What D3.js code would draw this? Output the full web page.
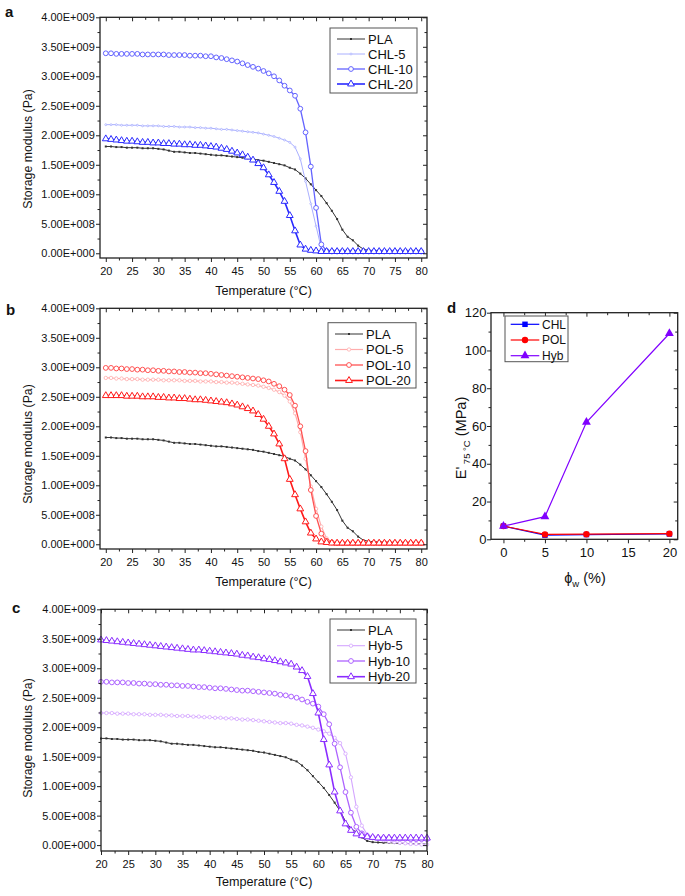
<!DOCTYPE html>
<html><head><meta charset="utf-8">
<script src="https://cdn.jsdelivr.net/npm/d3@7"></script>
<style>
body{margin:0;background:#fff}
svg{display:block}
text{font-family:"Liberation Sans",Arial,sans-serif;fill:#111}
</style>
</head><body>
<svg id="chart" width="685" height="896"></svg>
<script>
// ---------- DATA (storage modulus in units of 1E+009 Pa) ----------
const temperature = [20,21,22,23,24,25,26,27,28,29,30,31,32,33,34,35,36,37,38,39,40,41,42,43,44,45,46,47,48,49,50,51,52,53,54,55,56,57,58,59,60,61,62,63,64,65,66,67,68,69,70,71,72,73,74,75,76,77,78,79,80];

const PLA = [1.81,1.81,1.80,1.80,1.79,1.79,1.79,1.78,1.78,1.78,1.77,1.76,1.74,1.72,1.72,1.71,1.70,1.70,1.69,1.68,1.67,1.66,1.66,1.65,1.64,1.63,1.62,1.61,1.60,1.58,1.57,1.55,1.53,1.51,1.49,1.45,1.42,1.35,1.27,1.17,1.07,0.97,0.85,0.72,0.58,0.40,0.28,0.22,0.13,0.07,0.05,0.045,0.04,0.04,0.035,0.03,0.03,0.025,0.02,0.02,0.015];

const CHL5 = [2.18,2.18,2.18,2.17,2.17,2.17,2.17,2.16,2.16,2.16,2.16,2.15,2.15,2.15,2.14,2.14,2.14,2.13,2.13,2.12,2.12,2.11,2.10,2.10,2.09,2.08,2.07,2.06,2.05,2.04,2.02,2.00,1.98,1.95,1.92,1.88,1.80,1.60,1.22,0.84,0.46,0.08,0.03,0.02,0.02,0.02,0.02,0.02,0.02,0.02,0.02,0.02,0.02,0.02,0.02,0.02,0.02,0.02,0.02,0.02,0.02];

const CHL10 = [3.39,3.39,3.38,3.38,3.38,3.38,3.38,3.37,3.37,3.37,3.37,3.37,3.36,3.36,3.36,3.36,3.35,3.35,3.35,3.34,3.34,3.32,3.31,3.29,3.27,3.25,3.22,3.19,3.16,3.13,3.09,3.05,3.00,2.93,2.84,2.76,2.67,2.45,2.05,1.47,0.77,0.15,0.04,0.03,0.03,0.03,0.03,0.03,0.03,0.03,0.03,0.03,0.03,0.03,0.03,0.03,0.03,0.03,0.03,0.03,0.03];

const CHL20 = [1.94,1.93,1.92,1.91,1.90,1.90,1.89,1.88,1.88,1.87,1.87,1.86,1.86,1.85,1.85,1.84,1.84,1.83,1.83,1.82,1.81,1.80,1.78,1.76,1.73,1.70,1.67,1.63,1.58,1.52,1.45,1.33,1.20,1.05,0.88,0.64,0.38,0.14,0.07,0.05,0.04,0.03,0.03,0.03,0.03,0.03,0.03,0.03,0.03,0.03,0.03,0.03,0.03,0.03,0.03,0.03,0.03,0.03,0.03,0.03,0.03];

const POL5 = [2.82,2.82,2.81,2.81,2.80,2.80,2.80,2.79,2.79,2.79,2.79,2.78,2.78,2.78,2.78,2.77,2.77,2.77,2.76,2.76,2.76,2.75,2.75,2.74,2.74,2.73,2.72,2.71,2.70,2.69,2.67,2.65,2.62,2.58,2.52,2.42,2.22,1.90,1.45,0.98,0.60,0.30,0.10,0.04,0.02,0.02,0.02,0.02,0.02,0.02,0.02,0.02,0.02,0.02,0.02,0.02,0.02,0.02,0.02,0.02,0.02];

const POL10 = [2.99,2.99,2.98,2.98,2.97,2.97,2.96,2.96,2.95,2.95,2.94,2.94,2.93,2.93,2.92,2.92,2.91,2.91,2.90,2.90,2.89,2.88,2.87,2.86,2.85,2.84,2.83,2.82,2.81,2.80,2.78,2.76,2.72,2.68,2.62,2.53,2.35,2.00,1.58,0.92,0.48,0.18,0.06,0.03,0.02,0.02,0.02,0.02,0.02,0.02,0.02,0.02,0.02,0.02,0.02,0.02,0.02,0.02,0.02,0.02,0.02];

const POL20 = [2.52,2.52,2.52,2.52,2.51,2.51,2.51,2.50,2.50,2.50,2.49,2.49,2.48,2.48,2.47,2.47,2.46,2.45,2.45,2.44,2.43,2.42,2.41,2.40,2.38,2.36,2.33,2.30,2.26,2.20,2.12,2.00,1.87,1.70,1.45,1.10,0.84,0.60,0.38,0.19,0.09,0.04,0.03,0.02,0.02,0.02,0.02,0.02,0.02,0.02,0.02,0.02,0.02,0.02,0.02,0.02,0.02,0.02,0.02,0.02,0.02];

const HYB5 = [2.24,2.24,2.24,2.23,2.23,2.23,2.22,2.22,2.22,2.21,2.21,2.21,2.20,2.20,2.19,2.19,2.19,2.18,2.18,2.17,2.17,2.16,2.16,2.15,2.15,2.14,2.13,2.13,2.12,2.11,2.10,2.09,2.08,2.07,2.07,2.06,2.04,2.03,2.01,1.99,1.96,1.93,1.89,1.82,1.73,1.55,1.15,0.65,0.33,0.18,0.12,0.10,0.08,0.06,0.05,0.04,0.03,0.02,0.02,0.01,0.01];

const HYB10 = [2.77,2.77,2.76,2.76,2.76,2.75,2.75,2.74,2.74,2.73,2.73,2.72,2.72,2.71,2.71,2.70,2.70,2.69,2.68,2.68,2.67,2.66,2.66,2.65,2.64,2.63,2.62,2.62,2.61,2.60,2.59,2.58,2.57,2.55,2.54,2.52,2.50,2.47,2.43,2.40,2.35,2.22,2.05,1.72,1.32,0.90,0.55,0.31,0.20,0.15,0.13,0.12,0.12,0.12,0.11,0.11,0.11,0.10,0.10,0.10,0.10];

const HYB20 = [3.48,3.47,3.46,3.45,3.44,3.43,3.42,3.41,3.40,3.39,3.38,3.37,3.36,3.35,3.34,3.33,3.32,3.31,3.31,3.30,3.29,3.28,3.27,3.26,3.25,3.24,3.22,3.21,3.19,3.18,3.16,3.15,3.13,3.11,3.09,3.07,3.02,2.96,2.86,2.57,2.24,1.79,1.36,0.90,0.58,0.36,0.25,0.19,0.16,0.14,0.13,0.12,0.12,0.12,0.12,0.12,0.12,0.12,0.12,0.12,0.12];

// panel d: E' at 75 °C (MPa) vs filler weight fraction
const phiW = [0,5,10,20];
const E75_CHL = [7.0,2.2,2.5,2.8];
const E75_POL = [7.0,2.6,2.7,3.0];
const E75_HYB = [7.0,12.0,62.0,109.0];

const tempTicks = [20,25,30,35,40,45,50,55,60,65,70,75,80];
const tempMinor = [22.5,27.5,32.5,37.5,42.5,47.5,52.5,57.5,62.5,67.5,72.5,77.5];
const modTicks = [0,0.5,1,1.5,2,2.5,3,3.5,4];
const modMinor = [0.25,0.75,1.25,1.75,2.25,2.75,3.25,3.75];
const eTicks = [0,20,40,60,80,100,120];
const eMinor = [10,30,50,70,90,110];
const phiTicks = [0,5,10,15,20];
const phiMinor = [2.5,7.5,12.5,17.5];

// ---------- DRAWING ----------
const svg = d3.select("#chart");
const FONT = '"Liberation Sans", Arial, sans-serif';

function sciFmt(v){
  const pa = v*1e9;
  if (pa === 0) return "0.00E+000";
  const e = Math.floor(Math.log10(pa)+1e-9);
  const m = pa/Math.pow(10,e);
  return m.toFixed(2)+"E+"+String(e).padStart(3,"0");
}

function drawAxes(g, x, y, o){
  const [x0,x1] = x.range();
  const [y0,y1] = y.range();
  const col = "#222";
  const add = (tr, axis) => {
    const a = g.append("g").attr("transform", tr).call(axis);
    a.select(".domain").remove();
    a.selectAll("line").attr("stroke", col).attr("stroke-width", 1);
    a.selectAll("text").attr("font-family", FONT).attr("font-size", o.fs).attr("fill","#111");
    return a;
  };
  add(`translate(0,${y0})`, d3.axisBottom(x).tickValues(o.xMajor).tickSize(4).tickPadding(o.xPad).tickFormat(o.xFmt));
  add(`translate(0,${y0})`, d3.axisBottom(x).tickValues(o.xMinor).tickSize(2.5).tickFormat(""));
  add(`translate(0,${y1})`, d3.axisBottom(x).tickValues(o.xMajor).tickSize(4).tickFormat(""));
  add(`translate(0,${y1})`, d3.axisBottom(x).tickValues(o.xMinor).tickSize(2.5).tickFormat(""));
  add(`translate(${x0},0)`, d3.axisLeft(y).tickValues(o.yMajor).tickSize(4).tickPadding(o.yPad).tickFormat(o.yFmt));
  add(`translate(${x0},0)`, d3.axisLeft(y).tickValues(o.yMinor).tickSize(2.5).tickFormat(""));
  add(`translate(${x1},0)`, d3.axisLeft(y).tickValues(o.yMajor).tickSize(4).tickFormat(""));
  add(`translate(${x1},0)`, d3.axisLeft(y).tickValues(o.yMinor).tickSize(2.5).tickFormat(""));
  g.append("rect").attr("x",x0).attr("y",y1).attr("width",x1-x0).attr("height",y0-y1)
    .attr("fill","none").attr("stroke",col).attr("stroke-width",1.3);
}

function marker(sel, kind, color, size){
  if (kind === "square") {
    return sel.append("path").attr("d", d3.symbol(d3.symbolSquare, size)()).attr("fill", color).attr("stroke","none");
  }
  if (kind === "dot") {
    return sel.append("path").attr("d", d3.symbol(d3.symbolCircle, size)()).attr("fill", "#fff").attr("stroke", color).attr("stroke-width",0.8);
  }
  if (kind === "circle") {
    return sel.append("path").attr("d", d3.symbol(d3.symbolCircle, size)()).attr("fill", "#fff").attr("stroke", color).attr("stroke-width",1);
  }
  if (kind === "triangle") {
    return sel.append("path").attr("d", d3.symbol(d3.symbolTriangle, size)()).attr("fill", "#fff").attr("stroke", color).attr("stroke-width",1);
  }
}

const panelDefs = [
  {letter:"a", lx:5, ly:17, left:100, right:427, top:17.3, bottom:258, xDom:[18.9,81.1], yDom:[-0.08,4],
   yTitleY:149, xTitleY:295,
   legend:{x:330,y:28,w:87,h:65,rows:[39,54,69,84]},
   series:[
     {name:"PLA", data:PLA, color:"#333333", width:1, mk:"square", ms:4},
     {name:"CHL-5", data:CHL5, color:"#aab0ff", width:1, mk:"dot", ms:3},
     {name:"CHL-10", data:CHL10, color:"#6464ff", width:1.3, mk:"circle", ms:18},
     {name:"CHL-20", data:CHL20, color:"#2a2aff", width:1.6, mk:"triangle", ms:20}
   ]},
  {letter:"b", lx:6, ly:315, left:100, right:427, top:308.3, bottom:549, xDom:[18.9,81.1], yDom:[-0.08,4],
   yTitleY:444, xTitleY:586,
   legend:{x:328,y:322.7,w:88,h:65.3,rows:[334,349.5,365,380.5]},
   series:[
     {name:"PLA", data:PLA, color:"#333333", width:1, mk:"square", ms:4},
     {name:"POL-5", data:POL5, color:"#ffadad", width:1.2, mk:"dot", ms:9},
     {name:"POL-10", data:POL10, color:"#ff5252", width:1.3, mk:"circle", ms:18},
     {name:"POL-20", data:POL20, color:"#ff1a1a", width:1.6, mk:"triangle", ms:20}
   ]},
  {letter:"c", lx:12, ly:613, left:101, right:427, top:609.3, bottom:851, xDom:[20,80], yDom:[-0.1,4],
   yTitleY:738, xTitleY:886,
   legend:{x:330,y:619,w:86,h:64,rows:[630,645.7,661,676.7]},
   series:[
     {name:"PLA", data:PLA, color:"#333333", width:1, mk:"square", ms:4},
     {name:"Hyb-5", data:HYB5, color:"#d4a6ff", width:1.1, mk:"dot", ms:9},
     {name:"Hyb-10", data:HYB10, color:"#ad63ff", width:1.3, mk:"circle", ms:18},
     {name:"Hyb-20", data:HYB20, color:"#8a2cff", width:1.6, mk:"triangle", ms:20}
   ]}
];

panelDefs.forEach(p => {
  const g = svg.append("g");
  const x = d3.scaleLinear().domain(p.xDom).range([p.left, p.right]);
  const y = d3.scaleLinear().domain(p.yDom).range([p.bottom, p.top]);

  p.series.forEach(s => {
    const pts = temperature.map((t,i) => [t, s.data[i]]);
    const line = d3.line().x(d => x(d[0])).y(d => y(d[1]));
    g.append("path").datum(pts).attr("d", line).attr("fill","none")
      .attr("stroke", s.color).attr("stroke-width", s.width).attr("stroke-linejoin","round");
    const mg = g.append("g");
    pts.forEach(d => {
      marker(mg.append("g").attr("transform",`translate(${x(d[0])},${y(d[1])})`), s.mk, s.color, s.ms);
    });
  });

  drawAxes(g, x, y, {xMajor:tempTicks, xMinor:tempMinor, yMajor:modTicks, yMinor:modMinor,
    xFmt:d3.format("d"), yFmt:sciFmt, fs:11, xPad:5, yPad:1.2});

  g.append("text").attr("transform",`translate(32,${p.yTitleY}) rotate(-90)`)
    .attr("text-anchor","middle").attr("font-size",12.3).text("Storage modulus (Pa)");
  g.append("text").attr("x",(p.left+p.right)/2).attr("y",p.xTitleY)
    .attr("text-anchor","middle").attr("font-size",12.6).text("Temperature (°C)");
  g.append("text").attr("x",p.lx).attr("y",p.ly).attr("font-size",15).attr("font-weight","bold").text(p.letter);

  const L = p.legend;
  g.append("rect").attr("x",L.x).attr("y",L.y).attr("width",L.w).attr("height",L.h)
    .attr("fill","#fff").attr("stroke","#555").attr("stroke-width",1);
  p.series.forEach((s,i) => {
    const ry = L.rows[i];
    g.append("line").attr("x1",L.x+7).attr("x2",L.x+35).attr("y1",ry).attr("y2",ry)
      .attr("stroke",s.color).attr("stroke-width",s.width);
    marker(g.append("g").attr("transform",`translate(${L.x+21},${ry})`), s.mk, s.color, s.ms);
    g.append("text").attr("x",L.x+38).attr("y",ry+4.7).attr("font-size",13).text(s.name);
  });
});

// ---------- panel d ----------
{
  const g = svg.append("g");
  const x = d3.scaleLinear().domain([-1.5,21]).range([491,677.7]);
  const y = d3.scaleLinear().domain([0,120]).range([539.3,312.7]);
  const dSeries = [
    {name:"CHL", data:E75_CHL, color:"#0000ff", mk:d3.symbolSquare, ms:30},
    {name:"POL", data:E75_POL, color:"#ff0000", mk:d3.symbolCircle, ms:32},
    {name:"Hyb", data:E75_HYB, color:"#8000ff", mk:d3.symbolTriangle, ms:34}
  ];
  dSeries.forEach(s => {
    const pts = phiW.map((v,i) => [v, s.data[i]]);
    g.append("path").datum(pts).attr("d", d3.line().x(d=>x(d[0])).y(d=>y(d[1])))
      .attr("fill","none").attr("stroke",s.color).attr("stroke-width",1.2);
    g.selectAll(null).data(pts).enter().append("path")
      .attr("transform", d=>`translate(${x(d[0])},${y(d[1])})`)
      .attr("d", d3.symbol(s.mk, s.ms)()).attr("fill", s.color);
  });
  drawAxes(g, x, y, {xMajor:phiTicks, xMinor:phiMinor, yMajor:eTicks, yMinor:eMinor,
    xFmt:d3.format("d"), yFmt:d3.format("d"), fs:13, xPad:4.5, yPad:0.5});

  const rows = [324.3,340,355.7];
  g.append("rect").attr("x",505).attr("y",316).attr("width",63).attr("height",45.7)
    .attr("fill","#fff").attr("stroke","#555").attr("stroke-width",1);
  dSeries.forEach((s,i) => {
    g.append("line").attr("x1",510.7).attr("x2",539.3).attr("y1",rows[i]).attr("y2",rows[i])
      .attr("stroke",s.color).attr("stroke-width",1.2);
    g.append("path").attr("transform",`translate(525,${rows[i]})`)
      .attr("d", d3.symbol(s.mk, s.ms)()).attr("fill", s.color);
    g.append("text").attr("x",542).attr("y",rows[i]+4.3).attr("font-size",12).text(s.name);
  });

  g.append("text").attr("x",447).attr("y",313).attr("font-size",15).attr("font-weight","bold").text("d");
  const yl = g.append("text").attr("transform","translate(466,438) rotate(-90)")
    .attr("text-anchor","middle").attr("font-size",14.5);
  yl.append("tspan").text("E'");
  yl.append("tspan").attr("font-size",9.5).attr("dy",3.5).text(" 75 °C");
  yl.append("tspan").attr("dy",-3.5).text(" (MPa)");
  const xl = g.append("text").attr("x",585).attr("y",583).attr("text-anchor","middle").attr("font-size",14.5);
  xl.append("tspan").text("ϕ");
  xl.append("tspan").attr("font-size",9.5).attr("dy",3.5).text("w");
  xl.append("tspan").attr("dy",-3.5).text(" (%)");
}
</script>
</body></html>
